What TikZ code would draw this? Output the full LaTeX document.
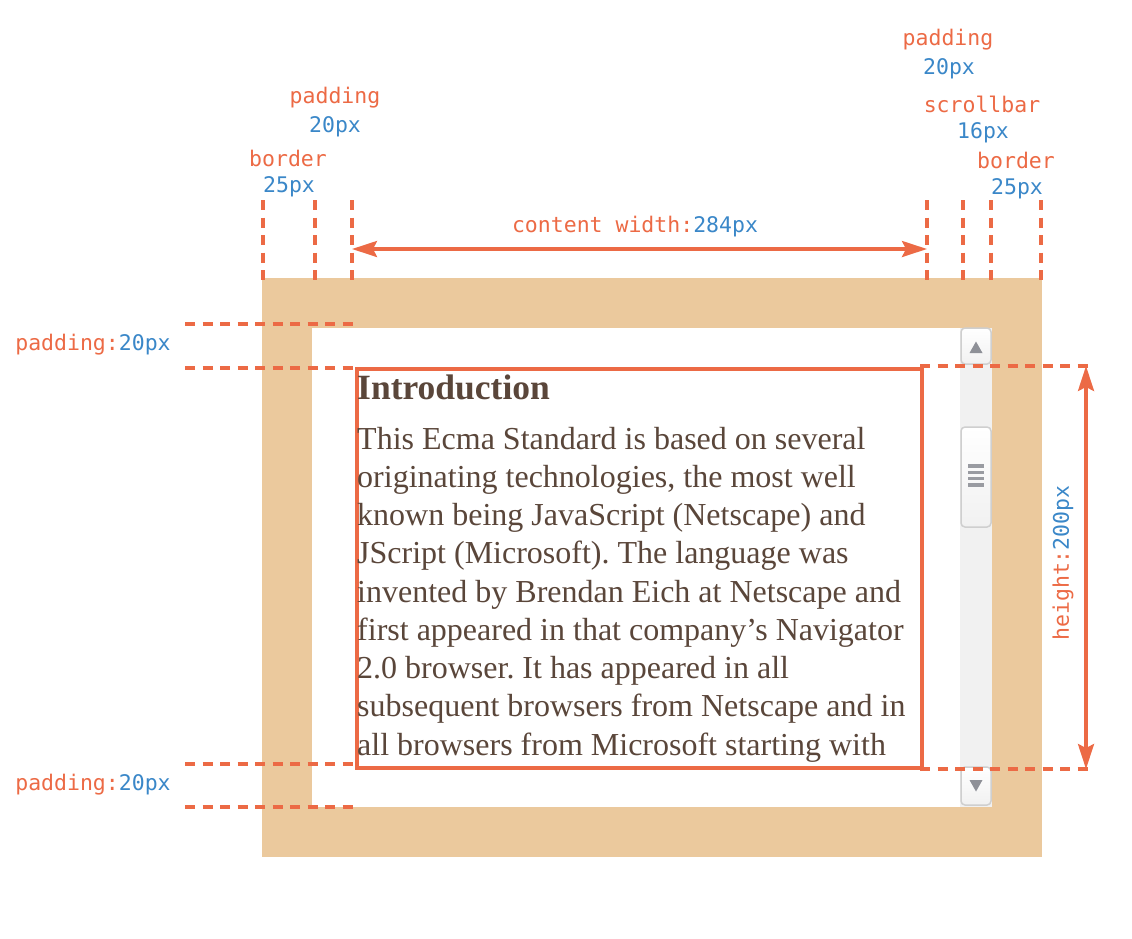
\documentclass[tikz,border=0pt]{standalone}
\usepackage{fontspec}
\setmainfont{Liberation Serif}
\newfontfamily\monofont{DejaVu Sans Mono}
\usetikzlibrary{arrows.meta}
\definecolor{dimred}{HTML}{EC6A45}
\definecolor{dimblue}{HTML}{3A87C8}
\definecolor{bordertan}{HTML}{EBC99D}
\definecolor{textbrown}{HTML}{5A463A}
\definecolor{barbg}{HTML}{F1F1F1}
\definecolor{barline}{HTML}{CFCFCF}
\definecolor{bargrip}{HTML}{8E9097}
\tikzset{
  guide/.style={dimred,line width=3.4pt,dash pattern=on 10pt off 7.5pt},
  dimline/.style={dimred,line width=3.2pt,{Stealth[length=25pt,width=16pt,inset=4pt]}-{Stealth[length=25pt,width=16pt,inset=4pt]}},
  lbl/.style={font=\monofont\fontsize{21.5}{26}\selectfont,text=dimred,inner sep=0pt},
  bodyline/.style={font=\fontsize{32}{38}\selectfont,text=textbrown,inner sep=0pt,anchor=base west},
  sbbutton/.style={draw=barline,line width=1.5pt,rounded corners=4pt,top color=white,bottom color=barbg}
}
\newcommand{\px}[1]{\textcolor{dimblue}{#1}}
\frenchspacing
\begin{document}
\begin{tikzpicture}[x=1pt,y=-1pt]
  \useasboundingbox (0,0) rectangle (1132,938);
  \fill[bordertan] (262,278) rectangle (1042,857);
  \fill[white] (312,328) rectangle (992,807);
  \fill[barbg] (960,328) rectangle (992,807);
  \draw[sbbutton] (961,328) rectangle (991,364);
  \fill[bargrip] (969.5,353) -- (982.5,353) -- (976,341.5) -- cycle;
  \draw[sbbutton] (961,427) rectangle (991,527);
  \foreach \y in {466,472.3,478.6,484.9} \fill[bargrip!90] (968,\y-1.8) rectangle (984,\y+1.8);
  \draw[sbbutton] (961,767) rectangle (991,805);
  \fill[bargrip] (969.5,780) -- (982.5,780) -- (976,791.5) -- cycle;
  \node[draw=dimred,line width=3.6pt,inner sep=0pt,anchor=north west,minimum width=565pt,minimum height=399pt] (content) at (355,367) {};
  \node[bodyline,font=\fontsize{35.5}{40}\selectfont\bfseries] (heading) at (357,399) {Introduction};
  \foreach \t [count=\i from 0] in {This Ecma Standard is based on several,
      {originating technologies, the most well},
      known being JavaScript (Netscape) and,
      JScript (Microsoft). The language was,
      invented by Brendan Eich at Netscape and,
      first appeared in that company’s Navigator,
      2.0 browser. It has appeared in all,
      subsequent browsers from Netscape and in,
      all browsers from Microsoft starting with}
    \node[bodyline] (line\i) at (357,449+\i*38.25) {\t};
  \foreach \x in {263,315,352,927,963,991,1041} \draw[guide] (\x,200) -- (\x,284);
  \foreach \y in {324,368,764,807} \draw[guide] (185,\y) -- (357,\y);
  \foreach \y in {366,769} \draw[guide] (920,\y) -- (1092,\y);
  \coordinate (cwl) at (352,249);
  \coordinate (cwr) at (927,249);
  \draw[dimline] (cwl) -- (cwr);
  \coordinate (htop) at (1086,366);
  \coordinate (hbot) at (1086,769);
  \draw[dimline] (htop) -- (hbot);
  \node[lbl] (cwlabel) at (635,227) {content width:\px{284px}};
  \node[lbl,rotate=90] (hlabel) at (1063,563) {height:\px{200px}};
  \node[lbl] (ptop) at (93,345) {padding:\px{20px}};
  \node[lbl] (pbot) at (93,785) {padding:\px{20px}};
  \node[lbl] (lpad) at (335,98) {padding};
  \node[lbl] (lpadv) at (335,127) {\px{20px}};
  \node[lbl] (lbor) at (288,158) {border};
  \node[lbl] (lborv) at (289,187) {\px{25px}};
  \node[lbl] (rpad) at (948,40) {padding};
  \node[lbl] (rpadv) at (949,69) {\px{20px}};
  \node[lbl] (rbar) at (982,104) {scrollbar};
  \node[lbl] (rbarv) at (983,133) {\px{16px}};
  \node[lbl] (rbor) at (1016,160) {border};
  \node[lbl] (rborv) at (1017,189) {\px{25px}};
\end{tikzpicture}
\end{document}
